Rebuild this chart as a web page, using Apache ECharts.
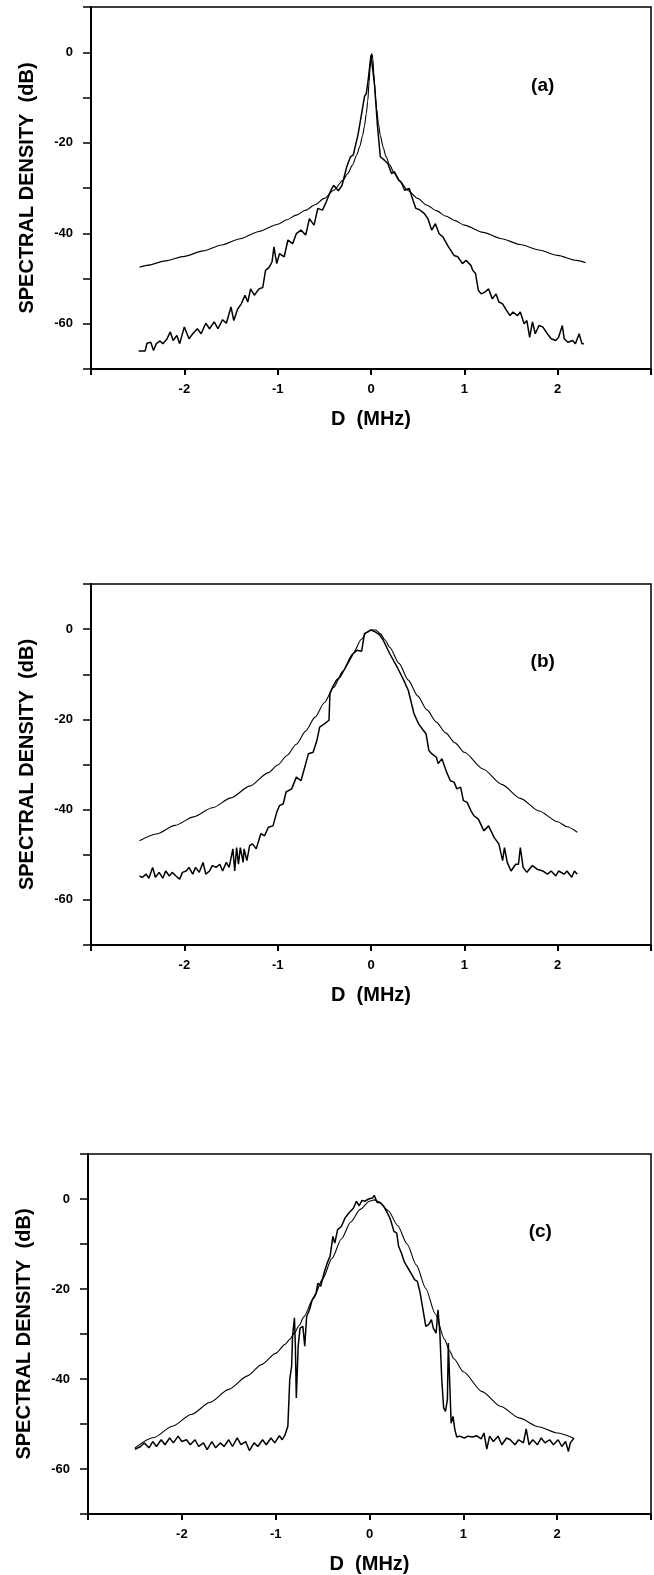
<!DOCTYPE html>
<html>
<head>
<meta charset="utf-8">
<script src="https://cdn.jsdelivr.net/npm/echarts@6/dist/echarts.min.js"></script>
<style>
  html, body { margin: 0; padding: 0; background: #fff; }
  #chart { width: 654px; height: 1575px; }
</style>
</head>
<body>
<div id="chart"></div>
<script>
// ---------- panel (a) ----------
var aTheoryX = [-2.48, -2.4, -2.2, -2.0, -1.8, -1.6, -1.4, -1.2, -1.0, -0.9, -0.8, -0.7, -0.6, -0.5, -0.4, -0.3, -0.25, -0.2, -0.15, -0.12, -0.09, -0.07, -0.05, -0.035, -0.02, -0.01, 0.0, 0.01, 0.02, 0.03, 0.045, 0.06, 0.08, 0.1, 0.13, 0.16, 0.2, 0.25, 0.3, 0.4, 0.5, 0.6, 0.7, 0.8, 0.9, 1.0, 1.2, 1.4, 1.6, 1.8, 2.0, 2.2, 2.3];
var aTheoryY = [-47.5, -47.1, -46.1, -45.1, -43.9, -42.6, -41.2, -39.6, -38.0, -37.0, -36.0, -34.9, -33.7, -32.3, -30.5, -28.3, -26.8, -25.0, -22.6, -20.8, -18.4, -16.3, -13.5, -10.8, -6.5, -3.5, -1.2, -0.3, -1.5, -4.5, -9.5, -12.5, -15.8, -18.4, -21.0, -23.0, -24.9, -26.8, -28.3, -30.6, -32.3, -33.8, -35.0, -36.2, -37.2, -38.2, -39.8, -41.2, -42.5, -43.7, -44.9, -46.0, -46.5];
var aMeasX = [-2.49, -2.42, -2.40, -2.36, -2.33, -2.30, -2.26, -2.23, -2.19, -2.15, -2.12, -2.08, -2.05, -2.0, -1.95, -1.91, -1.86, -1.82, -1.77, -1.73, -1.68, -1.64, -1.59, -1.55, -1.50, -1.47, -1.43, -1.39, -1.35, -1.32, -1.29, -1.25, -1.20, -1.16, -1.13, -1.09, -1.06, -1.04, -1.01, -0.98, -0.93, -0.89, -0.84, -0.80, -0.75, -0.70, -0.66, -0.61, -0.57, -0.52, -0.48, -0.43, -0.40, -0.35, -0.31, -0.26, -0.22, -0.19, -0.17, -0.14, -0.10, -0.07, -0.05, -0.03, 0.0, 0.014, 0.04, 0.07, 0.10, 0.14, 0.18, 0.22, 0.25, 0.30, 0.33, 0.36, 0.41, 0.45, 0.48, 0.52, 0.57, 0.61, 0.65, 0.69, 0.73, 0.77, 0.83, 0.89, 0.93, 0.98, 1.02, 1.07, 1.09, 1.12, 1.15, 1.18, 1.22, 1.26, 1.30, 1.34, 1.37, 1.41, 1.45, 1.49, 1.52, 1.57, 1.60, 1.64, 1.67, 1.70, 1.73, 1.76, 1.80, 1.84, 1.89, 1.93, 1.98, 2.01, 2.05, 2.07, 2.11, 2.16, 2.19, 2.23, 2.26, 2.28];
var aMeasY = [-66.0, -66.0, -64.3, -64.1, -65.9, -64.4, -63.8, -64.4, -63.5, -61.8, -63.7, -62.6, -64.4, -60.7, -63.3, -62.2, -61.1, -62.2, -59.9, -61.1, -59.6, -61.1, -59.1, -59.9, -56.3, -59.3, -56.8, -55.6, -53.7, -55.2, -52.3, -53.7, -52.3, -52.0, -48.2, -47.5, -46.3, -43.0, -46.7, -44.5, -45.2, -41.5, -42.3, -40.1, -39.3, -40.4, -36.8, -38.2, -34.5, -34.9, -33.1, -30.5, -29.4, -30.6, -29.4, -25.3, -23.1, -22.7, -20.9, -18.3, -13.5, -9.8, -9.1, -6.1, -0.6, -1.0, -7.6, -16.5, -23.1, -23.8, -24.6, -26.8, -26.4, -28.3, -29.0, -30.5, -30.1, -32.7, -34.5, -34.8, -35.6, -36.8, -39.3, -37.9, -40.1, -40.8, -43.0, -44.9, -45.2, -46.7, -46.0, -47.1, -48.2, -48.9, -52.6, -53.4, -53.0, -52.3, -54.5, -53.4, -55.2, -55.6, -57.0, -58.2, -57.4, -58.2, -57.4, -60.0, -59.3, -63.0, -59.6, -62.2, -60.4, -60.7, -62.2, -63.3, -63.7, -63.0, -60.4, -63.3, -64.1, -63.7, -64.4, -62.2, -64.4, -64.4];

// ---------- panel (b) ----------
var bTheoryX = [-2.48, -2.3, -2.1, -1.9, -1.7, -1.5, -1.3, -1.1, -1.0, -0.9, -0.8, -0.7, -0.6, -0.5, -0.4, -0.3, -0.2, -0.1, -0.05, 0.0, 0.05, 0.1, 0.15, 0.2, 0.3, 0.4, 0.5, 0.6, 0.7, 0.8, 0.9, 1.0, 1.2, 1.4, 1.6, 1.8, 2.0, 2.1, 2.21];
var bTheoryY = [-46.9, -45.4, -43.5, -41.6, -39.6, -37.4, -34.8, -31.8, -30.1, -28.0, -25.5, -22.6, -19.5, -16.3, -12.9, -9.3, -5.6, -2.2, -0.8, -0.2, -0.2, -1.0, -2.4, -4.0, -7.6, -11.3, -14.8, -17.9, -20.6, -23.0, -25.2, -27.3, -31.0, -34.4, -37.5, -40.3, -42.7, -43.8, -45.0];
var bMeasX = [-2.48, -2.45, -2.41, -2.38, -2.34, -2.31, -2.27, -2.23, -2.20, -2.16, -2.13, -2.09, -2.05, -2.02, -1.98, -1.95, -1.91, -1.88, -1.84, -1.80, -1.77, -1.73, -1.70, -1.66, -1.62, -1.59, -1.55, -1.52, -1.48, -1.46, -1.44, -1.42, -1.40, -1.37, -1.36, -1.33, -1.30, -1.27, -1.23, -1.18, -1.14, -1.10, -1.05, -1.01, -0.98, -0.94, -0.91, -0.85, -0.80, -0.75, -0.71, -0.67, -0.62, -0.58, -0.55, -0.50, -0.45, -0.44, -0.41, -0.37, -0.33, -0.30, -0.26, -0.23, -0.19, -0.15, -0.10, -0.07, 0.0, 0.045, 0.09, 0.13, 0.20, 0.28, 0.35, 0.40, 0.46, 0.51, 0.56, 0.59, 0.62, 0.65, 0.70, 0.72, 0.76, 0.81, 0.85, 0.89, 0.92, 0.96, 0.99, 1.03, 1.07, 1.10, 1.15, 1.21, 1.26, 1.32, 1.37, 1.41, 1.43, 1.46, 1.50, 1.55, 1.58, 1.60, 1.63, 1.67, 1.73, 1.78, 1.84, 1.89, 1.93, 1.98, 2.01, 2.07, 2.10, 2.15, 2.18, 2.21];
var bMeasY = [-54.7, -55.0, -54.3, -55.2, -52.8, -55.0, -53.9, -55.2, -53.6, -54.7, -53.9, -54.7, -55.4, -53.9, -53.6, -52.8, -54.3, -52.8, -53.9, -51.7, -54.3, -53.6, -52.4, -52.8, -52.1, -53.6, -51.7, -52.8, -48.7, -53.6, -48.4, -52.1, -48.4, -51.7, -48.7, -51.3, -48.0, -47.6, -48.7, -45.3, -45.8, -43.9, -43.6, -40.6, -39.1, -38.7, -36.1, -35.4, -32.8, -33.6, -30.6, -27.6, -27.3, -24.7, -21.7, -21.0, -20.2, -14.3, -12.8, -11.3, -10.6, -9.5, -8.0, -6.9, -5.4, -4.7, -4.9, -1.0, -0.2, -0.6, -1.2, -2.4, -5.4, -8.4, -11.3, -13.6, -18.7, -21.0, -22.4, -23.2, -26.9, -27.6, -28.4, -29.8, -28.7, -31.7, -33.6, -33.9, -35.4, -35.0, -38.0, -38.4, -40.2, -41.3, -42.1, -44.7, -43.6, -46.2, -47.6, -51.3, -48.4, -51.7, -53.6, -52.1, -52.1, -48.4, -52.8, -53.9, -52.4, -53.2, -53.6, -54.3, -53.6, -54.7, -53.6, -54.3, -53.6, -55.0, -53.6, -54.3];

// ---------- panel (c) ----------
var cTheoryX = [-2.50, -2.3, -2.1, -1.9, -1.7, -1.5, -1.3, -1.15, -1.0, -0.9, -0.85, -0.8, -0.75, -0.7, -0.6, -0.5, -0.4, -0.3, -0.2, -0.1, 0.0, 0.05, 0.1, 0.2, 0.3, 0.4, 0.5, 0.6, 0.7, 0.8, 0.85, 0.9, 1.0, 1.2, 1.4, 1.6, 1.8, 2.0, 2.17];
var cTheoryY = [-55.3, -53.0, -50.5, -47.9, -45.2, -42.3, -39.3, -36.8, -34.3, -32.3, -31.2, -29.8, -28.1, -26.2, -22.2, -17.8, -13.2, -8.9, -5.1, -2.3, -0.5, -0.2, -0.6, -2.6, -5.9, -10.0, -14.7, -19.9, -25.5, -31.2, -33.6, -35.5, -38.4, -42.8, -46.1, -48.7, -50.6, -52.0, -53.1];
var cMeasX = [-2.50, -2.44, -2.40, -2.35, -2.31, -2.27, -2.22, -2.18, -2.13, -2.09, -2.04, -2.00, -1.95, -1.91, -1.86, -1.82, -1.77, -1.73, -1.68, -1.64, -1.59, -1.55, -1.50, -1.46, -1.41, -1.37, -1.32, -1.28, -1.23, -1.19, -1.14, -1.10, -1.05, -1.01, -0.96, -0.93, -0.90, -0.87, -0.85, -0.83, -0.82, -0.80, -0.79, -0.78, -0.76, -0.74, -0.71, -0.69, -0.67, -0.64, -0.61, -0.57, -0.55, -0.52, -0.48, -0.45, -0.42, -0.39, -0.37, -0.34, -0.30, -0.26, -0.22, -0.17, -0.14, -0.11, -0.08, -0.05, -0.01, 0.03, 0.05, 0.08, 0.12, 0.15, 0.18, 0.21, 0.23, 0.26, 0.29, 0.31, 0.34, 0.37, 0.40, 0.44, 0.48, 0.51, 0.54, 0.57, 0.60, 0.63, 0.66, 0.68, 0.71, 0.73, 0.75, 0.77, 0.79, 0.81, 0.83, 0.84, 0.85, 0.87, 0.89, 0.91, 0.93, 0.96, 1.01, 1.05, 1.10, 1.14, 1.19, 1.22, 1.25, 1.28, 1.32, 1.37, 1.41, 1.46, 1.50, 1.55, 1.59, 1.64, 1.67, 1.70, 1.74, 1.79, 1.83, 1.87, 1.92, 1.96, 2.01, 2.05, 2.09, 2.12, 2.14, 2.18];
var cMeasY = [-55.6, -55.0, -54.2, -55.3, -53.9, -55.0, -53.5, -54.6, -53.1, -54.2, -52.7, -53.9, -53.5, -54.6, -53.5, -55.0, -54.2, -55.7, -53.9, -55.3, -54.2, -55.0, -53.5, -55.0, -53.1, -54.6, -53.9, -55.9, -54.2, -55.0, -53.5, -54.6, -53.1, -54.2, -52.6, -53.5, -52.4, -50.5, -40.1, -37.2, -30.5, -26.4, -32.7, -44.2, -32.7, -28.7, -28.3, -32.7, -26.1, -24.6, -22.4, -20.9, -18.7, -19.4, -16.1, -14.2, -12.7, -8.3, -9.8, -6.8, -6.1, -4.2, -3.1, -2.0, -0.5, -1.5, -0.3, -0.5, 0.0, 0.2, 0.8, -0.7, -0.9, -1.6, -2.7, -3.9, -5.0, -7.2, -7.6, -10.5, -12.0, -13.9, -15.0, -16.4, -17.9, -18.3, -20.9, -24.6, -28.3, -27.9, -26.8, -28.7, -29.8, -24.6, -29.8, -40.1, -46.4, -47.2, -44.6, -32.0, -37.9, -49.8, -48.3, -51.3, -52.9, -52.7, -53.1, -52.7, -52.9, -52.6, -53.3, -52.0, -55.6, -52.7, -53.9, -52.7, -54.6, -53.1, -53.5, -54.6, -53.5, -54.2, -51.1, -54.6, -53.5, -54.6, -53.1, -54.2, -53.5, -54.6, -53.5, -55.0, -53.9, -56.1, -54.2, -53.1];

// tick labels that are printed (other ticks stay bare)
var xLabelled = [-2, -1, 0, 1, 2];
var yLabelled = [0, -20, -40, -60];
var panelNames = ['(a)', '(b)', '(c)'];

function zip(xs, ys) {
  return xs.map(function (x, i) { return [x, ys[i]]; });
}

var FONT = '"Liberation Sans", Arial, Helvetica, sans-serif';
// plot area of each panel (px)
var boxes = [
  { left: 91, top: 7, height: 362 },
  { left: 91, top: 584, height: 361 },
  { left: 88, top: 1154, height: 360 }
];
// where the (a)/(b)/(c) tag sits, data coords
var tagPos = [[1.84, -7.4], [1.84, -7.2], [1.82, -7.2]];

var chart = echarts.init(document.getElementById('chart'));

var grid = [], xAxis = [], yAxis = [], series = [];
var theory = [zip(aTheoryX, aTheoryY), zip(bTheoryX, bTheoryY), zip(cTheoryX, cTheoryY)];
var meas = [zip(aMeasX, aMeasY), zip(bMeasX, bMeasY), zip(cMeasX, cMeasY)];

boxes.forEach(function (b, i) {
  grid.push({
    left: b.left, right: 3, top: b.top, height: b.height,
    show: true, borderColor: '#000', borderWidth: 1.5, backgroundColor: 'transparent'
  });
  xAxis.push({
    gridIndex: i, type: 'value', min: -3, max: 3, interval: 1,
    name: 'D  (MHz)', nameLocation: 'middle', nameGap: 40,
    nameTextStyle: { fontFamily: FONT, fontWeight: 'bold', fontSize: 20, color: '#000' },
    axisLine: { onZero: false, lineStyle: { color: '#000', width: 2 } },
    axisTick: { inside: false, length: 6, lineStyle: { color: '#000', width: 2 } },
    axisLabel: {
      color: '#000', fontFamily: FONT, fontWeight: 'bold', fontSize: 13, margin: 14,
      formatter: function (v) { return xLabelled.indexOf(v) >= 0 ? String(v) : ''; }
    },
    splitLine: { show: false }
  });
  yAxis.push({
    gridIndex: i, type: 'value', min: -70, max: 10, interval: 10,
    name: 'SPECTRAL DENSITY  (dB)', nameLocation: 'middle', nameGap: 54, nameRotate: 90,
    nameTextStyle: { fontFamily: FONT, fontWeight: 'bold', fontSize: 20, color: '#000' },
    axisLine: { onZero: false, lineStyle: { color: '#000', width: 2 } },
    axisTick: { inside: false, length: 8, lineStyle: { color: '#000', width: 1.5 } },
    axisLabel: {
      color: '#000', fontFamily: FONT, fontWeight: 'bold', fontSize: 13, margin: 18,
      formatter: function (v) { return yLabelled.indexOf(v) >= 0 ? String(v) : ''; }
    },
    splitLine: { show: false }
  });
  // theoretical curve: thin smooth line
  series.push({
    type: 'line', xAxisIndex: i, yAxisIndex: i, data: theory[i],
    showSymbol: false, smooth: 0.25, smoothMonotone: 'x',
    lineStyle: { color: '#000', width: 1.1 }, z: 3
  });
  // measured spectrum: heavier noisy trace
  series.push({
    type: 'line', xAxisIndex: i, yAxisIndex: i, data: meas[i],
    showSymbol: false, lineStyle: { color: '#000', width: 1.5 }, z: 4,
    markPoint: {
      symbol: 'rect', symbolSize: 1, itemStyle: { color: 'transparent' },
      label: {
        show: true, position: 'inside', formatter: panelNames[i],
        color: '#000', fontFamily: FONT, fontWeight: 'bold', fontSize: 19
      },
      data: [{ coord: tagPos[i] }]
    }
  });
});

chart.setOption({
  backgroundColor: '#fff',
  animation: false,
  grid: grid,
  xAxis: xAxis,
  yAxis: yAxis,
  series: series
});
</script>
</body>
</html>
